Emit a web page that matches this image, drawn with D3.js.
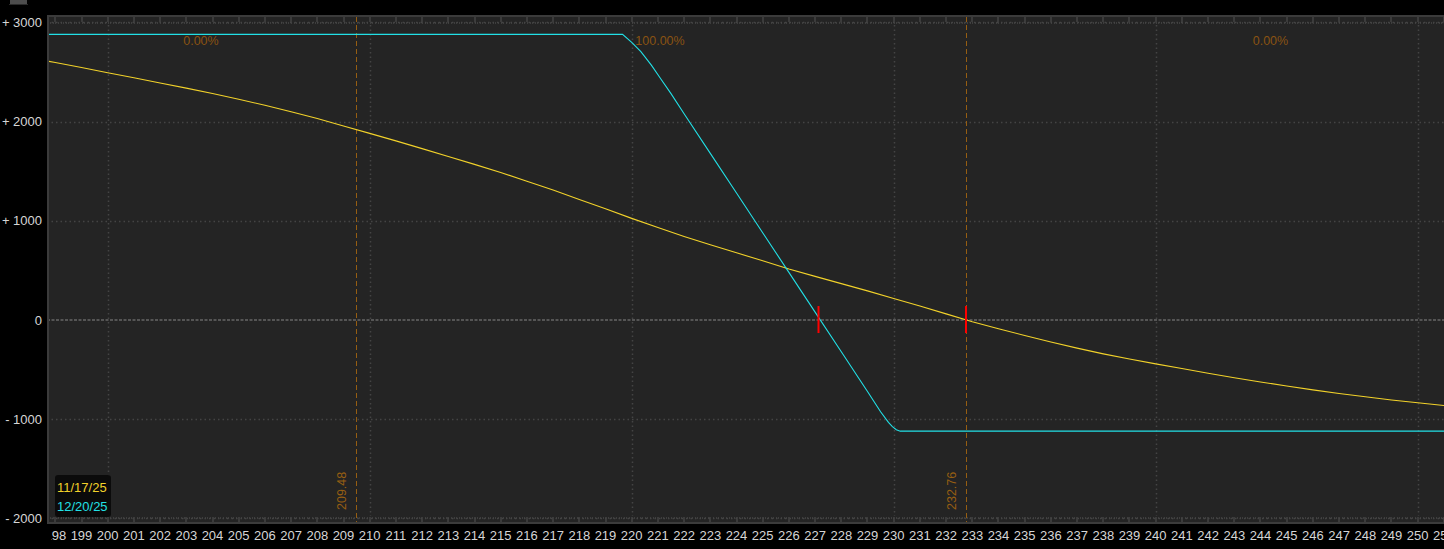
<!DOCTYPE html>
<html><head><meta charset="utf-8">
<script src="https://cdn.jsdelivr.net/npm/d3@7"></script>
<style>html,body{margin:0;padding:0;background:#000;overflow:hidden}</style>
</head><body><svg id="c" width="1444" height="549"></svg>
<script>
// ---------- data ----------
const priceTicks = d3.range(198, 252);
const yTicks = [3000, 2000, 1000, 0, -1000, -2000];
const yTickLabels = ["+ 3000", "+ 2000", "+ 1000", "0", "- 1000", "- 2000"];
const gridPrices = [200, 210, 220, 230, 240, 250];
const seriesNames = ["11/17/25", "12/20/25"];
const seriesColors = ["#f2d22a", "#22e0e6"];

// 11/17/25 theoretical P/L
const nowPrices = [197.5,198,199,200,201,202,203,204,205,206,207,208,209,210,211,212,213,214,215,216,217,218,219,220,
  221,222,223,224,225,226,227,228,229,230,231,232,233,234,235,236,237,238,239,240,241,242,243,244,245,246,247,248,249,250,251,251.5];
const nowValues = [2620,2596,2545,2493,2442,2390,2338,2284,2226,2165,2100,2031,1957,1882,1806,1728,1649,1569,1487,1400,1310,1216,1121,1025,
  932,843,760,678,598,515,440,367,294,218,141,62,-18,-88,-156,-221,-283,-341,-393,-442,-489,-536,-581,-624,-665,-704,-740,-774,-806,-833,-861,-874];

// 12/20/25 expiration P/L
const expPrices = [197.5,219.65,220.0,220.35,220.75,221.1,221.5,222,223,224,225,226,227,228,229,229.5,229.8,229.95,230.1,230.25,251.5];
const expValues = [2880,2880,2800,2705,2570,2435,2282,2080,1680,1280,880,480,80,-320,-720,-925,-1032,-1075,-1105,-1120,-1120];

const breakevens = [227.13, 232.76];
const priceLines = [209.48, 232.76];
const probLabels = ["0.00%", "100.00%", "0.00%"];
const probPrices = [203.56, 221.08, 244.38];

// ---------- layout ----------
const W = 1444, H = 549;
const L = 47, R = 1444, T = 15, B = 524;
const svg = d3.select("#c");
const x = d3.scaleLinear().domain([197.683, 251.004]).range([L, R]);
const y = d3.scaleLinear().domain([-2056, 3075]).range([B, T]);
const font = "'Liberation Sans', Arial, sans-serif";

svg.append("rect").attr("width", W).attr("height", H).attr("fill", "#000");
// top-left little button
svg.append("rect").attr("x", 10).attr("y", 0).attr("width", 17).attr("height", 4).attr("fill", "#4d4d4d");
svg.append("rect").attr("x", 9).attr("y", 4).attr("width", 19).attr("height", 1).attr("fill", "#2a2a2a");

// panel
svg.append("rect").attr("x", L).attr("y", T).attr("width", R - L).attr("height", B - T).attr("fill", "#242424");
svg.append("defs").append("clipPath").attr("id", "pc")
  .append("rect").attr("x", L + 2).attr("y", T).attr("width", R - L - 2).attr("height", B - T);
svg.select("defs").append("clipPath").attr("id", "xc")
  .append("rect").attr("x", 51).attr("y", B).attr("width", R - 51).attr("height", H - B);

// borders
svg.append("rect").attr("x", L).attr("y", T).attr("width", 2).attr("height", B - T).attr("fill", "#3b3b3b");
svg.append("rect").attr("x", L).attr("y", T).attr("width", R - L).attr("height", 2).attr("fill", "#3b3b3b");
svg.append("rect").attr("x", L).attr("y", B - 2).attr("width", R - L).attr("height", 2).attr("fill", "#3b3b3b");

const g = svg.append("g").attr("clip-path", "url(#pc)");

// minor ticks (dotted) top & bottom
const minor = d3.range(1977, 2511).map(d => d / 10);
g.selectAll(".mt").data(minor).join("rect").attr("x", d => Math.round(x(d))).attr("y", T + 7)
  .attr("width", 1).attr("height", 2).attr("fill", "#3e3e3e");
g.selectAll(".mb").data(minor).join("rect").attr("x", d => Math.round(x(d))).attr("y", B - 7)
  .attr("width", 1).attr("height", 2).attr("fill", "#3e3e3e");
// major ticks
g.selectAll(".Mt").data(priceTicks).join("rect").attr("x", d => Math.round(x(d)) - 1).attr("y", T + 2)
  .attr("width", 2).attr("height", 5).attr("fill", "#3b3b3b");
g.selectAll(".Mb").data(priceTicks).join("rect").attr("x", d => Math.round(x(d)) - 1).attr("y", B - 7)
  .attr("width", 2).attr("height", 5).attr("fill", "#3b3b3b");

// grid
g.selectAll(".vg").data(gridPrices).join("line")
  .attr("x1", d => Math.round(x(d)) + 0.5).attr("x2", d => Math.round(x(d)) + 0.5)
  .attr("y1", T + 10).attr("y2", B - 8)
  .attr("stroke", "#444").attr("stroke-width", 1.5).attr("stroke-dasharray", "1.5,3");
g.selectAll(".hg").data(yTicks.filter(d => d !== 0)).join("line")
  .attr("x1", L).attr("x2", R)
  .attr("y1", d => Math.round(y(d)) + 0.5).attr("y2", d => Math.round(y(d)) + 0.5)
  .attr("stroke", "#444").attr("stroke-width", 1.5).attr("stroke-dasharray", "1.5,3");
g.append("line").attr("x1", L).attr("x2", R).attr("y1", y(0)).attr("y2", y(0))
  .attr("stroke", "#555").attr("stroke-width", 2).attr("stroke-dasharray", "3,1.5");

// price lines (dashed orange)
g.selectAll(".pl").data(priceLines).join("line")
  .attr("x1", d => Math.round(x(d)) + 0.5).attr("x2", d => Math.round(x(d)) + 0.5)
  .attr("y1", T + 2).attr("y2", B - 2)
  .attr("stroke", "#965e12").attr("stroke-width", 1).attr("stroke-dasharray", "5,3");
g.selectAll(".plt").data(priceLines).join("text")
  .attr("transform", d => `translate(${x(d) - 10},${510}) rotate(-90)`)
  .attr("font-family", font).attr("font-size", 12.5).attr("fill", "#965e12")
  .text(d => d.toFixed(2));

// probability labels
g.selectAll(".pb").data(probLabels).join("text")
  .attr("x", (d, i) => x(probPrices[i])).attr("y", 45)
  .attr("text-anchor", "middle").attr("font-family", font).attr("font-size", 12.5)
  .attr("fill", "#8a5312").text(d => d);

// series
const line = d3.line().x(d => x(d[0])).y(d => y(d[1]));
g.append("path").datum(nowPrices.map((p, i) => [p, nowValues[i]]))
  .attr("d", line).attr("fill", "none").attr("stroke", seriesColors[0]).attr("stroke-width", 1.1);
g.append("path").datum(expPrices.map((p, i) => [p, expValues[i]]))
  .attr("d", line).attr("fill", "none").attr("stroke", seriesColors[1]).attr("stroke-width", 1.1);

// breakeven markers
g.selectAll(".be").data(breakevens).join("line")
  .attr("x1", d => x(d)).attr("x2", d => x(d))
  .attr("y1", y(0) - 14).attr("y2", y(0) + 13)
  .attr("stroke", "#ff0000").attr("stroke-width", 2);

// legend
svg.append("rect").attr("x", 55).attr("y", 475).attr("width", 56).attr("height", 42).attr("rx", 3)
  .attr("fill", "#0b0b0b");
svg.selectAll(".lg").data(seriesNames).join("text")
  .attr("x", 57).attr("y", (d, i) => 491.5 + i * 19)
  .attr("font-family", font).attr("font-size", 13).attr("fill", (d, i) => seriesColors[i])
  .text(d => d);

// y axis labels
svg.selectAll(".yl").data(yTicks).join("text")
  .attr("x", 42).attr("y", d => y(d) + 4.5).attr("text-anchor", "end")
  .attr("font-family", font).attr("font-size", 13).attr("fill", "#d6d6d6")
  .text((d, i) => yTickLabels[i]);

// x axis labels
const xa = svg.append("g").attr("clip-path", "url(#xc)");
xa.selectAll(".xl").data(priceTicks).join("text")
  .attr("x", d => x(d)).attr("y", 540).attr("text-anchor", "middle")
  .attr("font-family", font).attr("font-size", 13).attr("fill", "#d6d6d6")
  .text(d => d);
</script></body></html>
